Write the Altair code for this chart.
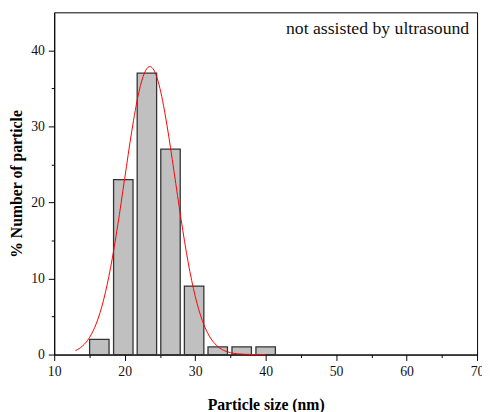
import altair as alt
import pandas as pd

# Histogram
bin_centers = [16.4, 19.8, 23.15, 26.5, 29.85, 33.2, 36.6, 40.0]
percent = [2, 23, 37, 27, 9, 1, 1, 1]

# Red fitted curve
fit_x = [13, 14, 15, 16, 17, 18, 19, 20, 21, 22, 22.5, 23, 23.57, 24, 24.5, 25, 26, 27, 28,
         29, 30, 31, 32, 33, 34, 35, 36, 37, 38, 39, 40]
fit_y = [0.51, 1.11, 2.23, 4.15, 7.16, 11.44, 16.92, 23.16, 29.35, 34.44, 36.23, 37.40, 37.87,
         37.60, 36.63, 35.00, 30.16, 24.06, 17.77, 12.14, 7.68, 4.50, 2.44, 1.23, 0.57, 0.25,
         0.10, 0.04, 0.01, 0.0, 0.0]

annotation = ["not assisted by ultrasound"]
x_major = [10, 20, 30, 40, 50, 60, 70]
x_minor = [15, 25, 35, 45, 55, 65]
y_major = [0, 10, 20, 30, 40]
y_minor = [5, 15, 25, 35]

BAR_HALF = 1.38
FONT = "Liberation Serif"

bars_df = pd.DataFrame({"center": bin_centers, "pct": percent})
fit_df = pd.DataFrame({"size": fit_x, "pct": fit_y})
note_df = pd.DataFrame({"t": annotation})

xscale = alt.Scale(domain=[10, 70], nice=False, zero=False)
yscale = alt.Scale(domain=[0, 45], nice=False)

x_axis = alt.Axis(values=x_major, tickSize=6, title="Particle size (nm)", orient="bottom",
                  labelPadding=4, titlePadding=19, labelFlush=False, labelOverlap=False, grid=False)
y_axis = alt.Axis(values=y_major, tickSize=6, title="% Number of particle", orient="left",
                  labelPadding=4, titlePadding=6, labelFlush=False, labelOverlap=False, grid=False)
x_minor_axis = alt.Axis(values=x_minor, tickSize=3, labels=False, domain=False, title=None,
                        orient="bottom", grid=False)
y_minor_axis = alt.Axis(values=y_minor, tickSize=3, labels=False, domain=False, title=None,
                        orient="left", grid=False)

bars = (
    alt.Chart(bars_df)
    .transform_calculate(left=f"datum.center - {BAR_HALF}", right=f"datum.center + {BAR_HALF}")
    .mark_rect(fill="#c0c0c0", stroke="#333333", strokeWidth=1.3)
    .encode(
        x=alt.X("left:Q", scale=xscale, axis=x_axis),
        x2="right:Q",
        y=alt.Y("pct:Q", scale=yscale, axis=y_axis),
        y2=alt.datum(0),
    )
)

minor = (
    alt.Chart(fit_df)
    .mark_point(opacity=0)
    .encode(x=alt.X("size:Q", scale=xscale, axis=x_minor_axis),
            y=alt.Y("pct:Q", scale=yscale, axis=y_minor_axis))
)

curve = (
    alt.Chart(fit_df)
    .mark_line(color="red", strokeWidth=1, interpolate="monotone")
    .encode(x=alt.X("size:Q", scale=xscale, axis=None), y=alt.Y("pct:Q", scale=yscale, axis=None))
)

note = (
    alt.Chart(note_df)
    .mark_text(align="right", baseline="alphabetic", font=FONT, fontSize=18, color="#111111")
    .encode(text="t:N", x=alt.value(422), y=alt.value(22))
)

chart = (
    alt.layer(bars, minor, curve, note)
    .resolve_axis(x="independent", y="independent")
    .properties(width=430, height=348, autosize="none",
                padding={"left": 47, "top": 1, "right": 5, "bottom": 55})
    .configure_view(stroke="black", strokeWidth=1)
    .configure_axis(
        domainColor="black", tickColor="black", labelFont=FONT, titleFont=FONT,
        labelFontSize=14, titleFontSize=16, titleFontWeight="bold",
        labelColor="#111111", titleColor="black",
    )
)

chart.save("out.html", embed_options={"renderer": "svg", "actions": False})
